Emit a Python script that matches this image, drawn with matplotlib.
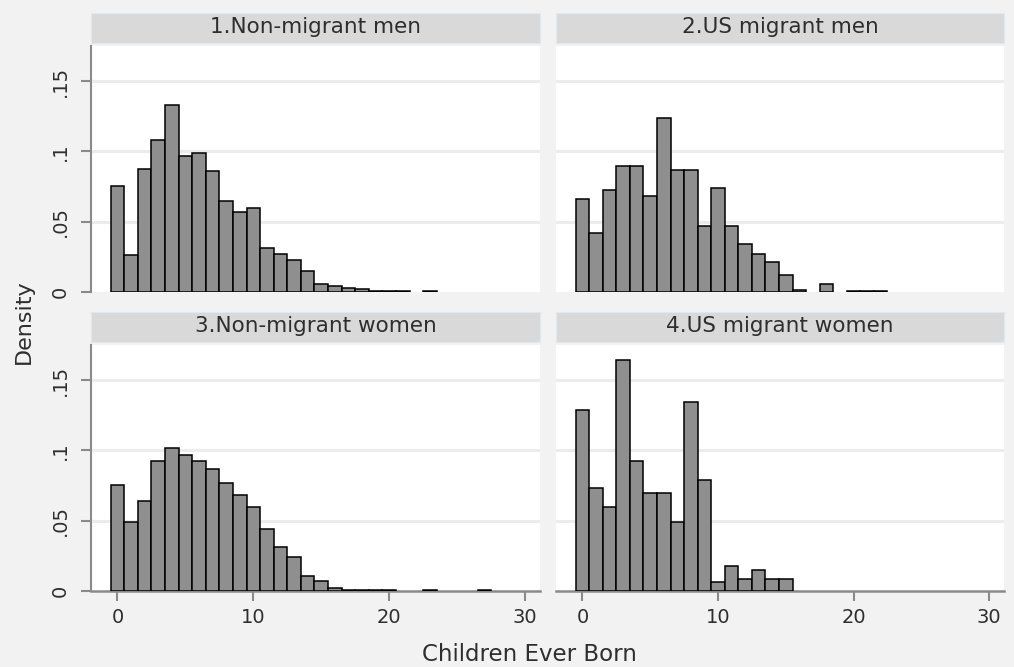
import numpy as np
import matplotlib
matplotlib.use("Agg")
import matplotlib.pyplot as plt
from matplotlib.patches import Rectangle

# children ever born, one bar per value (discrete histogram)
children = list(range(0, 28))

nonmig_men = [0.0755, 0.026, 0.0874, 0.108, 0.133, 0.097, 0.099, 0.086, 0.065, 0.057,
              0.060, 0.031, 0.027, 0.023, 0.015, 0.006, 0.004, 0.0026, 0.002, 0.0005,
              0.0005, 0.0005, 0, 0.001, 0, 0, 0, 0]
us_men = [0.0664, 0.042, 0.0726, 0.0898, 0.0898, 0.068, 0.124, 0.087, 0.087, 0.047,
          0.074, 0.047, 0.034, 0.027, 0.021, 0.012, 0.0017, 0, 0.006, 0,
          0.0005, 0.0005, 0.0005, 0, 0, 0, 0, 0]
nonmig_women = [0.0757, 0.049, 0.0638, 0.0923, 0.102, 0.0966, 0.0923, 0.087, 0.077, 0.068,
                0.060, 0.044, 0.031, 0.024, 0.0107, 0.0071, 0.0021, 0.0005, 0.0005, 0.0005,
                0.0005, 0, 0, 0.0005, 0, 0, 0, 0.0005]
us_women = [0.1286, 0.0736, 0.0598, 0.164, 0.0923, 0.0697, 0.0697, 0.049, 0.1346, 0.0788,
            0.0064, 0.0178, 0.0088, 0.0147, 0.0088, 0.0088, 0, 0, 0, 0,
            0, 0, 0, 0, 0, 0, 0, 0]

titles = ["1.Non-migrant men", "2.US migrant men", "3.Non-migrant women", "4.US migrant women"]
series = [nonmig_men, us_men, nonmig_women, us_women]
yticks = [0, 0.05, 0.1, 0.15]
ytick_labels = ["0", ".05", ".1", ".15"]
xticks = [0, 10, 20, 30]

W, H = 1014, 667
fig = plt.figure(figsize=(W / 100, H / 100), dpi=100)
fig.patch.set_facecolor("#f2f2f2")

# panel boxes in pixels: left/right, and strip top, plot top, plot bottom
cols = [(91, 540), (556, 1004)]
rows = [(13, 46, 292), (312, 345, 591)]

axis_col = "#8a8a8a"
txt_col = "#2e2e2e"

for i in range(4):
    r, c = divmod(i, 2)
    x0, x1 = cols[c]
    st, pt, pb = rows[r]
    # strip
    fig.patches.append(Rectangle((x0 / W, 1 - (pt - 3) / H), (x1 - x0) / W, (pt - 3 - st) / H,
                                 transform=fig.transFigure, facecolor="#d9d9d9",
                                 edgecolor="#e2e8ec", linewidth=0.8))
    fig.text((x0 + x1) / 2 / W, 1 - (st + 20) / H, titles[i], ha="center", va="baseline",
             fontsize=15.5, color=txt_col)

    ax = fig.add_axes([x0 / W, 1 - pb / H, (x1 - x0) / W, (pb - pt) / H])
    ax.set_facecolor("white")
    x = np.array(children)
    y = np.array(series[i])
    keep = y > 0
    ax.bar(x[keep], y[keep], width=1.0, color="#8f8f8f", edgecolor="black", linewidth=1.1, zorder=3)
    ax.set_xlim(-1.95, 31.1)
    ax.set_ylim(0, 0.175)
    for g in yticks[1:]:
        ax.axhline(g, color="#ececec", linewidth=2.2, zorder=1)
    for s in ax.spines.values():
        s.set_visible(False)

    if c == 0:
        ax.spines["left"].set_visible(True)
        ax.spines["left"].set_color(axis_col)
        ax.spines["left"].set_linewidth(1.5)
        ax.set_yticks(yticks)
        ax.set_yticklabels(ytick_labels, rotation=90, va="center", fontsize=14, color=txt_col)
        ax.tick_params(axis="y", length=7, width=1.5, color=axis_col, pad=8)
    else:
        ax.set_yticks([])

    if r == 1:
        ax.spines["bottom"].set_visible(True)
        ax.spines["bottom"].set_color(axis_col)
        ax.spines["bottom"].set_linewidth(1.8)
        ax.set_xticks(xticks)
        ax.set_xticklabels([str(t) for t in xticks], fontsize=14, color=txt_col)
        ax.tick_params(axis="x", length=7, width=1.5, color=axis_col, pad=5)
    else:
        ax.set_xticks([])

fig.text(529 / W, 1 - 661 / H, "Children Ever Born", ha="center", va="baseline",
         fontsize=16.5, color=txt_col)
fig.text(14 / W, 1 - 322 / H, "Density", ha="left", va="center", rotation=90,
         fontsize=16, color=txt_col)

fig.savefig("out.png", dpi=100, facecolor=fig.get_facecolor())
